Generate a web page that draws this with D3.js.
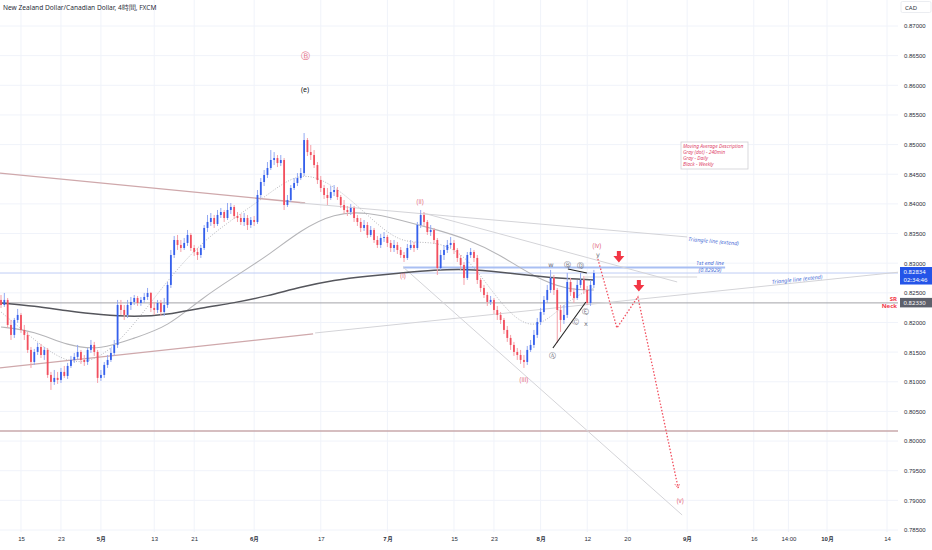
<!DOCTYPE html>
<html><head><meta charset="utf-8">
<script src="https://cdn.jsdelivr.net/npm/d3@7"></script>
<style>
body{margin:0;background:#fff;}
svg{display:block;font-family:"Noto Sans",Roboto,"DejaVu Sans",sans-serif;}
</style>
</head><body>
<svg id="chart" width="932" height="550"></svg>
<script>
// ---------- DATA ----------
const title = "New Zealand Dollar/Canadian Dollar, 4時間, FXCM";
const firstOpen = 0.82380;
const closes = [
0.82295,0.82380,0.81958,0.81790,0.82042,0.82127,0.81874,0.81790,0.81537,0.81334,
0.81503,0.81587,0.81452,0.81537,0.81115,0.80997,0.81065,0.81031,0.81166,0.81098,
0.81267,0.81368,0.81419,0.81503,0.81368,0.81334,0.81537,0.81621,0.81503,0.81065,
0.81115,0.81284,0.81368,0.81486,0.81621,0.82295,0.82211,0.82127,0.82295,0.82346,
0.82413,0.82329,0.82380,0.82430,0.82498,0.82245,0.82211,0.82329,0.82177,0.82295,
0.82633,0.83138,0.83391,0.83307,0.83256,0.83341,0.83476,0.83256,0.83189,0.83138,
0.83256,0.83594,0.83695,0.83762,0.83661,0.83813,0.83863,0.83762,0.83897,0.83948,
0.83796,0.83762,0.83695,0.83762,0.83644,0.83728,0.83695,0.84150,0.84369,0.84487,
0.84605,0.84740,0.84773,0.84689,0.84740,0.83981,0.84066,0.84268,0.84352,0.84436,
0.84520,0.85077,0.84874,0.84824,0.84655,0.84402,0.84268,0.84150,0.84099,0.84200,
0.84234,0.84116,0.83981,0.83897,0.83863,0.83931,0.83762,0.83695,0.83594,0.83644,
0.83476,0.83560,0.83391,0.83307,0.83425,0.83442,0.83341,0.83256,0.83307,0.83223,
0.83138,0.83088,0.83256,0.83307,0.83256,0.83644,0.83813,0.83695,0.83526,0.83560,
0.83391,0.82919,0.83138,0.83223,0.83307,0.83341,0.83223,0.83088,0.82970,0.82751,
0.83138,0.83189,0.83088,0.82717,0.82582,0.82464,0.82346,0.82380,0.82211,0.82127,
0.82042,0.81874,0.81739,0.81621,0.81503,0.81452,0.81368,0.81334,0.81537,0.81621,
0.81790,0.82009,0.82177,0.82380,0.82548,0.82751,0.82548,0.82211,0.82042,0.82127,
0.82683,0.82515,0.82413,0.82633,0.82717,0.82548,0.82329,0.82633,0.82834];
const highs = [
0.82464,0.82498,0.82413,0.82042,0.82076,0.82228,0.82160,0.81958,0.81840,0.81587,
0.81554,0.81655,0.81638,0.81587,0.81570,0.81166,0.81199,0.81166,0.81233,0.81267,
0.81318,0.81436,0.81486,0.81621,0.81537,0.81452,0.81570,0.81705,0.81672,0.81537,
0.81199,0.81334,0.81452,0.81570,0.81705,0.82380,0.82380,0.82295,0.82380,0.82430,
0.82464,0.82447,0.82430,0.82498,0.82582,0.82515,0.82346,0.82380,0.82380,0.82413,
0.82683,0.83223,0.83459,0.83476,0.83391,0.83425,0.83560,0.83509,0.83307,0.83256,
0.83307,0.83644,0.83813,0.83846,0.83813,0.83897,0.83931,0.83897,0.84015,0.84015,
0.83981,0.83863,0.83830,0.83846,0.83813,0.83779,0.83796,0.84234,0.84436,0.84571,
0.84706,0.84908,0.84874,0.84824,0.84824,0.84773,0.84150,0.84318,0.84436,0.84520,
0.84605,0.85195,0.85111,0.84993,0.84908,0.84706,0.84470,0.84318,0.84268,0.84301,
0.84318,0.84285,0.84150,0.84066,0.83964,0.83998,0.83964,0.83813,0.83762,0.83728,
0.83695,0.83627,0.83594,0.83459,0.83493,0.83526,0.83476,0.83391,0.83391,0.83358,
0.83273,0.83189,0.83324,0.83391,0.83358,0.83695,0.83897,0.83863,0.83728,0.83644,
0.83594,0.83425,0.83223,0.83307,0.83391,0.83442,0.83391,0.83256,0.83138,0.83020,
0.83189,0.83256,0.83223,0.83138,0.82751,0.82633,0.82515,0.82447,0.82413,0.82279,
0.82177,0.82076,0.81941,0.81790,0.81672,0.81570,0.81537,0.81452,0.81604,0.81705,
0.81874,0.82076,0.82245,0.82447,0.82633,0.82886,0.82801,0.82582,0.82295,0.82295,
0.82835,0.82751,0.82582,0.82717,0.82835,0.82784,0.82616,0.82717,0.82886];
const lows = [
0.82245,0.82262,0.81908,0.81705,0.81739,0.81992,0.81823,0.81705,0.81486,0.81233,
0.81284,0.81452,0.81402,0.81368,0.81065,0.80862,0.80947,0.80964,0.80980,0.81065,
0.81048,0.81233,0.81318,0.81368,0.81301,0.81267,0.81284,0.81486,0.81436,0.80980,
0.81014,0.81065,0.81233,0.81334,0.81436,0.81570,0.82127,0.82042,0.82076,0.82211,
0.82295,0.82279,0.82279,0.82329,0.82380,0.82177,0.82127,0.82160,0.82110,0.82110,
0.82245,0.82582,0.83088,0.83223,0.83189,0.83223,0.83290,0.83206,0.83122,0.83054,
0.83088,0.83223,0.83526,0.83627,0.83594,0.83627,0.83762,0.83695,0.83728,0.83830,
0.83745,0.83695,0.83644,0.83627,0.83560,0.83594,0.83627,0.83661,0.84099,0.84301,
0.84436,0.84571,0.84655,0.84621,0.84638,0.83897,0.83948,0.84032,0.84234,0.84301,
0.84402,0.84470,0.84807,0.84740,0.84605,0.84335,0.84200,0.84082,0.83981,0.84066,
0.84133,0.84066,0.83931,0.83830,0.83796,0.83813,0.83695,0.83627,0.83526,0.83543,
0.83425,0.83442,0.83341,0.83256,0.83256,0.83358,0.83273,0.83189,0.83189,0.83155,
0.83088,0.83020,0.83054,0.83223,0.83189,0.83223,0.83594,0.83627,0.83476,0.83459,
0.83324,0.82801,0.82886,0.83054,0.83172,0.83256,0.83155,0.83020,0.82886,0.82633,
0.82717,0.83088,0.83020,0.82649,0.82515,0.82413,0.82279,0.82295,0.82144,0.82042,
0.81975,0.81806,0.81672,0.81537,0.81436,0.81368,0.81301,0.81233,0.81284,0.81503,
0.81570,0.81739,0.81958,0.82127,0.82329,0.82498,0.82464,0.81655,0.81840,0.81975,
0.82076,0.82447,0.82329,0.82380,0.82582,0.82481,0.82295,0.82279,0.82582];

// moving averages sampled at bar positions
const maBars   = [0,10,20,30,40,50,60,70,80,90,100,110,120,130,140,150,160,170,178];
const maWeekly = [0.82329,0.82279,0.82194,0.82127,0.82093,0.82127,0.82245,0.82329,0.82447,0.82599,0.82717,0.82784,0.82835,0.82886,0.82902,0.82852,0.82784,0.82734,0.82717];
const maDaily  = [0.81924,0.81857,0.81604,0.81537,0.81739,0.81924,0.82397,0.82767,0.83122,0.83560,0.83846,0.83863,0.83728,0.83577,0.83408,0.83138,0.82767,0.82548,0.82548];
const ma240    = [0.82177,0.81705,0.81284,0.81368,0.81958,0.82717,0.83341,0.83762,0.84150,0.84571,0.84318,0.83813,0.83307,0.83391,0.83138,0.82295,0.81790,0.82380,0.82582];

// axis ticks
const xTickBars   = [6,18,30,46,58,76,96,116,136,148,162,176,188,206,226,236.4,248,266];
const xTickLabels = ["15","23","5月","13","21","6月","17","7月","15","23","8月","12","20","9月","16","14:00","10月","14"];
const priceTicks  = [0.870,0.865,0.860,0.855,0.850,0.845,0.840,0.835,0.830,0.825,0.820,0.815,0.810,0.805,0.800,0.795,0.790,0.785];

// price levels
const lastPrice = 0.82834;
const lastTime = "02:34:46";
const neckPrice = 0.82330;
const lowerLevel = 0.80170;
const endLine = {from:120.7, to:217.4, price:0.82929};

// drawings [bar1, price1, bar2, price2]
const brownLines = [[-0.3,0.84520,91.3,0.84015],[-0.3,0.81233,93.7,0.81806]];
const grayLines  = [[89.8,0.84015,206.0,0.83442],[126.7,0.83846,203.0,0.82683],[120.7,0.82936,204.5,0.78753],[94.3,0.81823,269.9,0.82851],[175.3,0.82767,209.0,0.82767]];
const blackLines = [[165.7,0.81570,175.6,0.82346],[170.2,0.82902,175.9,0.82835]];
const projection = [[179.2,0.83071],[184.9,0.81908],[191.2,0.82430],[203.3,0.79208]];
const downArrows = [[185.5,0.83105],[191.5,0.82616]];
const redLabels  = [["(i)",120.7,0.82784],["(ii)",125.8,0.84032],["(iii)",157,0.81031],["(iv)",178.9,0.83290],["(v)",203.9,0.79005]];
const grayLabels = [["y",179.2,0.83139],["w",165.1,0.82970],["Ⓑ",170.2,0.82970],["Ⓓ",174.1,0.82953],["Ⓐ",165.7,0.81436],["Ⓒ",172.6,0.82009],["Ⓔ",175.6,0.82177],["x",175.6,0.81975]];
const bigLabelB = ["Ⓑ",91.3,0.86494];
const labelE = ["(e)",91.3,0.85937];
const noteLines = ["Moving Average Description","Gray (dot) - 240min","Gray - Daily","Black - Weekly"];

// ---------- DRAW ----------
const W = 932, H = 550, plotR = 898, plotB = 532;
const svg = d3.select("#chart");
const X = d3.scaleLinear().domain([0,266]).range([1,887]);
const Y = d3.scaleLinear().domain([0.785,0.870]).range([530,26]);

svg.append("rect").attr("width",W).attr("height",H).attr("fill","#fff");
svg.append("defs").append("clipPath").attr("id","clip")
  .append("rect").attr("x",0).attr("y",0).attr("width",plotR).attr("height",plotB);

const grid = svg.append("g");
grid.selectAll(".vg").data(xTickBars).join("line")
  .attr("x1",d=>X(d)).attr("x2",d=>X(d)).attr("y1",0).attr("y2",plotB)
  .attr("stroke","#f0f3fa").attr("stroke-width",1);
grid.selectAll(".hg").data(priceTicks).join("line")
  .attr("x1",0).attr("x2",plotR).attr("y1",d=>Y(d)).attr("y2",d=>Y(d))
  .attr("stroke","#f0f3fa").attr("stroke-width",1);

const plot = svg.append("g").attr("clip-path","url(#clip)");

// horizontal levels
plot.append("line").attr("x1",0).attr("x2",plotR).attr("y1",Y(lowerLevel)).attr("y2",Y(lowerLevel))
  .attr("stroke","#c9a9ab").attr("stroke-width",1.4);
plot.append("line").attr("x1",0).attr("x2",plotR).attr("y1",Y(neckPrice)).attr("y2",Y(neckPrice))
  .attr("stroke","#a3a3a8").attr("stroke-width",1);
plot.append("line").attr("x1",0).attr("x2",plotR).attr("y1",Y(lastPrice)).attr("y2",Y(lastPrice))
  .attr("stroke","#bfcdf5").attr("stroke-width",1);
plot.append("line").attr("x1",X(endLine.from)).attr("x2",X(endLine.to))
  .attr("y1",Y(endLine.price)).attr("y2",Y(endLine.price))
  .attr("stroke","#a9bff3").attr("stroke-width",2);

// trend lines
const seg = (g,arr,color,w)=>g.selectAll(null).data(arr).join("line")
  .attr("x1",d=>X(d[0])).attr("y1",d=>Y(d[1])).attr("x2",d=>X(d[2])).attr("y2",d=>Y(d[3]))
  .attr("stroke",color).attr("stroke-width",w);
seg(plot,brownLines,"#cfa8ab",1.3);
seg(plot,grayLines,"#d4d4d8",1);

// moving averages
const maLine = d3.line().x((d,i)=>X(maBars[i])).y(d=>Y(d)).curve(d3.curveBasis);
plot.append("path").attr("d",maLine(ma240)).attr("fill","none").attr("stroke","#b8b8bc")
  .attr("stroke-width",1).attr("stroke-dasharray","1,1.6");
plot.append("path").attr("d",maLine(maDaily)).attr("fill","none").attr("stroke","#b5b5b8").attr("stroke-width",1.1);
plot.append("path").attr("d",maLine(maWeekly)).attr("fill","none").attr("stroke","#55565c").attr("stroke-width",1.5);

// candles
const bars = closes.map((c,i)=>{
  const o = i===0 ? firstOpen : closes[i-1];
  return {i, o, c, h:Math.max(highs[i],o,c), l:Math.min(lows[i],o,c)};
});
const upC = "#3560ec", dnC = "#f24f5e";
const cg = plot.append("g");
cg.selectAll(".wick").data(bars).join("line")
  .attr("x1",d=>X(d.i)).attr("x2",d=>X(d.i)).attr("y1",d=>Y(d.h)).attr("y2",d=>Y(d.l))
  .attr("stroke",d=>d.c>=d.o?"#93a9f3":"#f5a0a8").attr("stroke-width",1);
cg.selectAll(".body").data(bars).join("rect")
  .attr("x",d=>X(d.i)-0.9).attr("width",1.8)
  .attr("y",d=>Y(Math.max(d.o,d.c)))
  .attr("height",d=>Math.max(1,Math.abs(Y(d.o)-Y(d.c))))
  .attr("fill",d=>d.c>=d.o?upC:dnC);

// black triangle lines
seg(plot,blackLines,"#222",1.1);

// projection path
const projLine = d3.line().x(d=>X(d[0])).y(d=>Y(d[1]));
plot.append("path").attr("d",projLine(projection)).attr("fill","none")
  .attr("stroke","#f2505f").attr("stroke-width",1.3).attr("stroke-dasharray","1.5,1.8");
{
  const a = projection[projection.length-2], b = projection[projection.length-1];
  const x1=X(a[0]),y1=Y(a[1]),x2=X(b[0]),y2=Y(b[1]);
  const ang = Math.atan2(y2-y1,x2-x1), L=5;
  const p1=[x2-L*Math.cos(ang-0.5),y2-L*Math.sin(ang-0.5)], p2=[x2-L*Math.cos(ang+0.5),y2-L*Math.sin(ang+0.5)];
  plot.append("path").attr("d",`M${p1[0]},${p1[1]}L${x2},${y2}L${p2[0]},${p2[1]}`)
    .attr("fill","none").attr("stroke","#f2505f").attr("stroke-width",1).attr("stroke-dasharray","1.5,1");
}
// down arrows
plot.selectAll(".arr").data(downArrows).join("path")
  .attr("d",d=>{const cx=X(d[0]),cy=Y(d[1]);return `M${cx-2},${cy-6}h4v5h3.5l-5.5,6.5l-5.5,-6.5h3.5z`;})
  .attr("fill","#f23645");

// labels
const lab = svg.append("g").attr("text-anchor","middle").attr("dominant-baseline","central");
lab.selectAll(".rl").data(redLabels).join("text")
  .attr("x",d=>X(d[1])).attr("y",d=>Y(d[2])).text(d=>d[0])
  .attr("font-size",6.3).attr("fill","#e46c82");
lab.selectAll(".gl").data(grayLabels).join("text")
  .attr("x",d=>X(d[1])).attr("y",d=>Y(d[2])).text(d=>d[0])
  .attr("font-size",6.5).attr("fill","#6a6d78").attr("font-family","DejaVu Sans");
lab.append("text").attr("x",X(bigLabelB[1])).attr("y",Y(bigLabelB[2])).text(bigLabelB[0])
  .attr("font-size",9).attr("fill","#e46c82").attr("font-family","DejaVu Sans");
lab.append("text").attr("x",X(labelE[1])).attr("y",Y(labelE[2])).text(labelE[0])
  .attr("font-size",7).attr("fill","#131722");

// triangle line labels
const ital = svg.append("g").attr("font-style","italic").attr("fill","#4c6fd6").attr("font-size",5.5);
ital.append("text").attr("transform",`translate(688,241) rotate(5)`).text("Triangle line (extend)");
ital.append("text").attr("transform",`translate(772,284) rotate(-6)`).text("Triangle line (extend)");
ital.append("text").attr("x",710).attr("y",Y(endLine.price)-2).attr("text-anchor","middle").text("1st end line");
ital.append("text").attr("x",710).attr("y",Y(endLine.price)+4.5).attr("text-anchor","middle").text("(0.82929)");

// note box
const note = svg.append("g");
note.append("rect").attr("x",681).attr("y",142).attr("width",67).attr("height",27)
  .attr("fill","#fff").attr("stroke","#cfcfd4").attr("stroke-width",0.8);
note.selectAll("text").data(noteLines).join("text")
  .attr("x",683).attr("y",(d,i)=>147.5+i*6.2).text(d=>d)
  .attr("font-size",4.9).attr("font-style","italic").attr("fill","#e0486c");

// title
svg.append("text").attr("x",3).attr("y",10).text(title).attr("font-size",6.6).attr("fill","#2a2e39");

// axes
const xAxis = svg.append("g").attr("transform",`translate(0,${plotB})`)
  .call(d3.axisBottom(X).tickValues(xTickBars).tickFormat((d,i)=>xTickLabels[i]).tickSize(0).tickPadding(5));
xAxis.select(".domain").remove();
xAxis.selectAll("text").attr("font-size",6).attr("fill","#2a2e39")
  .attr("font-weight",(d,i)=>xTickLabels[i].includes("月")?"bold":"normal");

const yAxis = svg.append("g").attr("transform",`translate(${plotR+3},0)`)
  .call(d3.axisRight(Y).tickValues(priceTicks).tickFormat(d3.format(".5f")).tickSize(0).tickPadding(3));
yAxis.select(".domain").remove();
yAxis.selectAll("text").attr("font-size",6).attr("fill","#2a2e39");

// currency box
svg.append("rect").attr("x",901).attr("y",1.5).attr("width",30).attr("height",11).attr("rx",1.5)
  .attr("fill","#fff").attr("stroke","#e6e8ee").attr("stroke-width",0.8);
svg.append("text").attr("x",905).attr("y",9.5).text("CAD").attr("font-size",6).attr("fill","#2a2e39");

// last price box
const ly = Y(lastPrice);
svg.append("rect").attr("x",900).attr("y",ly-6).attr("width",32).attr("height",17.5).attr("fill","#2454e8");
svg.append("text").attr("x",903.5).attr("y",ly+1).text(d3.format(".5f")(lastPrice)).attr("font-size",6).attr("fill","#fff");
svg.append("text").attr("x",903.5).attr("y",ly+8.5).text(lastTime).attr("font-size",6).attr("fill","#fff");

// neck box
const ny = Y(neckPrice);
svg.append("rect").attr("x",900).attr("y",ny-5).attr("width",32).attr("height",9.5).attr("fill","#5d606b");
svg.append("text").attr("x",903.5).attr("y",ny+2).text(d3.format(".5f")(neckPrice)).attr("font-size",6).attr("fill","#fff");
svg.append("text").attr("x",897).attr("y",ny-2).attr("text-anchor","end").text("SR")
  .attr("font-size",6).attr("font-weight","bold").attr("fill","#f23645");
svg.append("text").attr("x",897).attr("y",ny+5.5).attr("text-anchor","end").text("Neck")
  .attr("font-size",6).attr("font-weight","bold").attr("fill","#f23645");
</script>
</body></html>
